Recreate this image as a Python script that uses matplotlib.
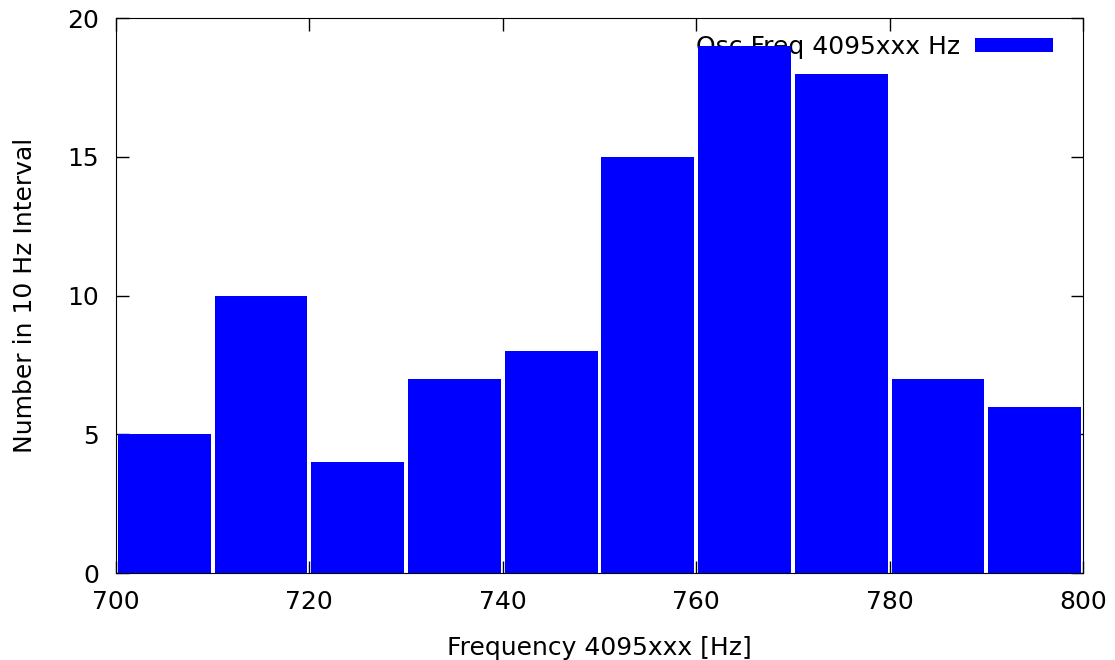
import matplotlib.pyplot as plt

# histogram data
bin_starts = [700, 710, 720, 730, 740, 750, 760, 770, 780, 790]
counts = [5, 10, 4, 7, 8, 15, 19, 18, 7, 6]
x_ticks = [700, 720, 740, 760, 780, 800]
y_ticks = [0, 5, 10, 15, 20]


def main():
    fig = plt.figure(figsize=(11.15, 6.6), dpi=100)
    ax = fig.add_axes([0.104, 0.1318, 0.8673, 0.8409])

    centers = [b + 5 for b in bin_starts]
    ax.bar(centers, counts, width=9.6, color="#0000ff",
           label="Osc Freq 4095xxx Hz", zorder=3)

    ax.set_xlim(700, 800)
    ax.set_ylim(0, 20)
    ax.set_xticks(x_ticks)
    ax.set_yticks(y_ticks)
    ax.tick_params(direction="in", length=9, width=1, top=True, right=True,
                   labelsize=18, pad=12)
    ax.set_xlabel("Frequency 4095xxx [Hz]", fontsize=18, labelpad=16)
    ax.set_ylabel("Number in 10 Hz Interval", fontsize=18, labelpad=22)

    leg = ax.legend(loc="upper right", frameon=False, fontsize=18,
                    markerfirst=False, handlelength=3.1, handleheight=0.5,
                    borderaxespad=0.8, handletextpad=0.6,
                    bbox_to_anchor=(1.0, 1.0 + 13 / 555))
    leg.set_zorder(1)

    fig.savefig("out.png", dpi=100)


if __name__ == "__main__":
    main()
